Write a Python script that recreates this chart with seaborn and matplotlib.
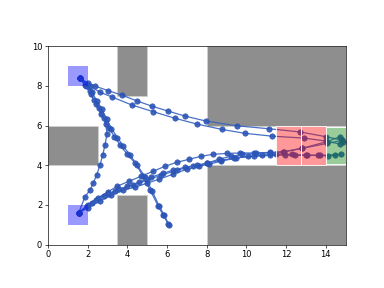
import matplotlib
matplotlib.use("Agg")
import matplotlib.pyplot as plt
from matplotlib.patches import Rectangle
import seaborn as sns
import pandas as pd

# obstacles (x, y, w, h)
obstacles = [(3.5, 7.5, 1.5, 2.5), (0, 4, 2.5, 2), (3.5, 0, 1.5, 2.5),
             (8, 6, 7, 4), (8, 0, 7, 4)]
starts = [(1, 8, 1, 1), (1, 1, 1, 1)]
red_goals = [(11.5, 4, 1.25, 2), (12.75, 4, 1.25, 2)]
green_goal = (14, 4.05, 1, 1.9)

# trajectory legs
leg_down_x = [1.6, 1.85, 2.1, 2.3, 2.55, 2.8, 3.05, 3.35, 3.65, 4.0, 4.4, 4.8, 5.15, 5.55, 5.8, 6.05]
leg_down_y = [8.4, 8.05, 7.75, 7.3, 6.9, 6.4, 5.9, 5.45, 5.0, 4.55, 4.1, 3.45, 2.75, 1.95, 1.5, 1.05]
leg_back_x = [6.1, 5.85, 5.6, 5.25, 4.9, 4.5, 4.15, 3.8, 3.5, 3.2, 2.95, 2.7, 2.45, 2.2, 1.95, 1.6]
leg_back_y = [1.0, 1.5, 1.95, 2.7, 3.4, 4.0, 4.5, 4.95, 5.4, 5.85, 6.35, 6.85, 7.25, 7.7, 8.05, 8.4]
leg_up1_x = [1.6, 2.0, 2.37, 3.04, 3.71, 4.47, 5.23, 6.06, 6.9, 7.96, 9.51, 11.15, 12.7, 14.01, 14.8]
leg_up1_y = [8.4, 8.15, 7.99, 7.76, 7.54, 7.25, 6.98, 6.73, 6.48, 6.23, 5.99, 5.84, 5.68, 5.44, 5.27]
leg_up2_x = [14.85, 14.72, 14.01, 12.9, 11.27, 9.93, 8.75, 7.5, 6.4, 5.31, 4.22, 3.21, 2.62, 2.1, 1.6]
leg_up2_y = [5.15, 5.07, 5.22, 5.37, 5.47, 5.61, 5.81, 6.08, 6.37, 6.7, 7.04, 7.45, 7.68, 8.0, 8.4]
leg_left_x = [1.6, 1.9, 2.15, 2.4, 2.65, 2.9, 2.98, 2.87, 2.76, 2.62, 2.45, 2.28, 2.12, 1.86, 1.55]
leg_left_y = [8.4, 8.0, 7.6, 7.1, 6.6, 6.1, 5.6, 5.02, 4.52, 4.01, 3.51, 3.09, 2.75, 2.41, 1.6]
leg_lowA_x = [1.55, 2.0, 2.5, 3.0, 3.5, 4.1, 4.7, 5.3, 5.9, 6.5, 7.1, 7.7, 8.3, 9.0, 9.7,
              10.4, 11.2, 11.9, 12.8, 14.05, 14.8]
leg_lowA_y = [1.6, 2.0, 2.35, 2.65, 2.95, 3.2, 3.45, 3.7, 3.95, 4.15, 4.3, 4.45, 4.55, 4.6, 4.62,
              4.62, 4.65, 4.68, 4.85, 5.1, 5.25]
leg_lowB_x = [14.75, 14.13, 13.62, 13.04, 12.45, 11.95, 11.19, 10.4, 9.5, 8.7, 8.0, 7.3, 6.5,
              5.7, 5.0, 4.3, 3.6, 3.0, 2.4, 1.95, 1.55]
leg_lowB_y = [4.55, 4.48, 4.5, 4.52, 4.5, 4.52, 4.5, 4.45, 4.38, 4.25, 4.1, 3.95, 3.75,
              3.5, 3.25, 3.0, 2.8, 2.55, 2.25, 1.95, 1.6]
leg_lowC_x = [1.55, 2.0, 2.6, 3.2, 3.8, 4.4, 5.0, 5.6, 6.3, 7.0, 7.6, 8.1, 8.7, 9.4, 10.1,
              10.77, 11.5, 12.3, 13.0, 13.7, 14.47]
leg_lowC_y = [1.6, 1.85, 2.2, 2.5, 2.75, 2.9, 3.1, 3.3, 3.55, 3.8, 3.95, 4.05, 4.2, 4.35, 4.45,
              4.52, 4.55, 4.55, 4.5, 4.5, 4.52]
leg_lowD_x = [1.55, 2.2, 2.8, 3.4, 4.0, 4.6, 5.2, 5.8, 6.3, 6.9, 7.5, 8.0, 8.6, 9.2, 9.8,
              10.5, 11.2, 11.86, 12.79, 14.05, 14.72]
leg_lowD_y = [1.6, 2.1, 2.45, 2.7, 2.95, 3.15, 3.4, 3.6, 3.75, 3.9, 4.0, 4.1, 4.3, 4.45, 4.55,
              4.6, 4.62, 4.68, 4.85, 5.19, 5.44]

legs = [(leg_down_x, leg_down_y), (leg_back_x, leg_back_y), (leg_up1_x, leg_up1_y),
        (leg_up2_x, leg_up2_y), (leg_left_x, leg_left_y), (leg_lowA_x, leg_lowA_y),
        (leg_lowB_x, leg_lowB_y), (leg_lowC_x, leg_lowC_y), (leg_lowD_x, leg_lowD_y)]

rows = []
for i, (xs, ys) in enumerate(legs):
    for j, (x, y) in enumerate(zip(xs, ys)):
        rows.append({"leg": i, "step": j, "x": x, "y": y})
df = pd.DataFrame(rows)

fig, ax = plt.subplots(figsize=(6.4, 4.8), dpi=60)

for (x, y, w, h) in obstacles:
    ax.add_patch(Rectangle((x, y), w, h, facecolor="#8e8e8e", edgecolor="#cfcfcf", lw=1, zorder=1))

sns.lineplot(data=df, x="x", y="y", units="leg", estimator=None, sort=False,
             color="#3462c2", lw=1.5, marker="o", markersize=6.5,
             markerfacecolor="#2c55b8", markeredgecolor="#2a50b0", alpha=0.9, ax=ax, zorder=2)

for (x, y, w, h) in starts:
    ax.add_patch(Rectangle((x, y), w, h, facecolor="blue", alpha=0.4, edgecolor="none", zorder=3))
for (x, y, w, h) in red_goals:
    ax.add_patch(Rectangle((x, y), w, h, facecolor=(1, 0, 0, 0.4), edgecolor="white", lw=1, zorder=3))
gx, gy, gw, gh = green_goal
ax.add_patch(Rectangle((gx, gy), gw, gh, facecolor=(0, 0.5, 0, 0.4), edgecolor="white", lw=1, zorder=3))

ax.set_xlim(0, 15)
ax.set_ylim(0, 10)
ax.set_aspect("equal")
ax.set_xlabel("")
ax.set_ylabel("")

plt.savefig("out.png", dpi=60)
